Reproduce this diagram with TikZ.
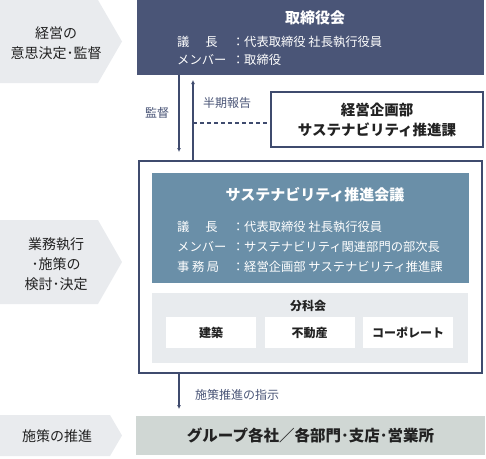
\documentclass[tikz,border=0pt]{standalone}
\usepackage{fontspec}
\setmainfont{Noto Sans CJK JP}
\usepackage{xcolor}
\usepackage{tikz}
\usetikzlibrary{calc,arrows.meta,positioning}
\definecolor{BoardNavy}{HTML}{4A5577}
\definecolor{CouncilBlue}{HTML}{6A8FA8}
\definecolor{LineNavy}{HTML}{3F4B6E}
\definecolor{ChevGray}{HTML}{E9EBEE}
\definecolor{SubGray}{HTML}{E8EBEE}
\definecolor{GroupGray}{HTML}{D0D7D4}
\definecolor{InkGray}{HTML}{222222}
\newcommand{\roleline}[2]{\makebox[55pt][l]{#1}\makebox[12pt][c]{：}#2}

\begin{document}
\begin{tikzpicture}[x=1pt, y=-1pt, >={Latex[length=4pt,width=4pt]},
  font=\fontsize{12}{14}\selectfont,
  panel/.style={anchor=north west, inner sep=0pt, outer sep=0pt},
  chev/.style={fill=ChevGray},
  chevtxt/.style={text=InkGray, align=center, font=\fontsize{14}{20}\selectfont},
  ttl/.style={text=white, font=\bfseries\fontsize{15}{18}\selectfont},
  role/.style={anchor=west, inner sep=0pt, text=white, font=\fontsize{12.3}{14}\selectfont},
  boldtxt/.style={text=InkGray, align=center, font=\bfseries\fontsize{14.5}{20}\selectfont},
  subbox/.style={fill=white, inner sep=0pt, minimum width=90, minimum height=31,
                 text=InkGray, font=\bfseries\fontsize{12}{14}\selectfont},
  lbl/.style={text=BoardNavy, font=\fontsize{12}{14}\selectfont},
  sig/.style={->, draw=LineNavy, line width=1.2pt}]
  \useasboundingbox (0,0) rectangle (486,458);

  % left column
  \fill[chev] (0,0) -- (98,0) -- (122,41.5) -- (98,83) -- (0,83) -- cycle;
  \fill[chev] (0,220) -- (98,220) -- (122,262) -- (98,304) -- (0,304) -- cycle;
  \fill[chev] (0,415) -- (110,415) -- (122,435.5) -- (110,456) -- (0,456) -- cycle;
  \node[chevtxt] (stage1) at (56,43)  {経営の\\意思決定･監督};
  \node[chevtxt] (stage2) at (56,264) {業務執行\\･施策の\\検討･決定};
  \node[chevtxt] (stage3) at (57,436) {施策の推進};

  % board
  \node[panel, fill=BoardNavy, minimum width=347, minimum height=75] (board) at (137,0) {};
  \node[ttl] (boardttl) at (315,18) {取締役会};
  \node[role] (boardchair) at (177,42) {\roleline{議\hspace{16pt}長}{代表取締役 社長執行役員}};
  \node[role] (boardmem) at (177,60) {\roleline{メンバー}{取締役}};

  % planning dept
  \node[panel, draw=LineNavy, line width=1.5pt, fill=white, minimum width=212, minimum height=55] (susdept) at (271,92) {};
  \node[boldtxt] (susdepttxt) at (susdept.center) {経営企画部\\サステナビリティ推進課};

  % council
  \node[panel, draw=LineNavy, line width=1.5pt, fill=white, minimum width=343, minimum height=212] (outer) at (139,161) {};
  \node[panel, fill=CouncilBlue, minimum width=317, minimum height=110] (council) at (152,173) {};
  \node[ttl] (councilttl) at (315,195) {サステナビリティ推進会議};
  \node[role] (cchair) at (177,227) {\roleline{議\hspace{16pt}長}{代表取締役 社長執行役員}};
  \node[role] (cmem) at (177,247) {\roleline{メンバー}{サステナビリティ関連部門の部次長}};
  \node[role] (csec) at (177,267) {\roleline{事\hspace{2.5pt}務\hspace{2.5pt}局}{経営企画部 サステナビリティ推進課}};

  \node[panel, fill=SubGray, minimum width=316, minimum height=70] (subc) at (152,293) {};
  \node[text=InkGray, font=\bfseries\fontsize{12}{14}\selectfont] (subcttl) at (308,306) {分科会};
  \node[subbox, anchor=north west] (kenchiku) at (166,317) {建築};
  \node[subbox, right=8 of kenchiku] (fudosan) {不動産};
  \node[subbox, right=8 of fudosan] (corp) {コーポレート};

  % group
  \node[panel, fill=GroupGray, minimum width=349, minimum height=39] (group) at (136,416) {};
  \node[boldtxt, font=\bfseries\fontsize{15.5}{20}\selectfont] (grouptxt) at (group.center) {グループ各社／各部門･支店･営業所};

  % connectors
  \coordinate (dnx) at (179,0);
  \coordinate (upx) at (193,0);
  \coordinate (dsh) at (193,123);
  \draw[sig, shorten >=9pt] (board.south -| dnx) -- (outer.north -| dnx);
  \draw[sig, shorten >=5pt] (outer.north -| upx) -- (board.south -| upx);
  \draw[LineNavy, line width=1.2pt, dash pattern=on 4pt off 3pt] (dsh) -- (dsh -| susdept.west);
  \draw[sig, shorten >=7pt] (outer.south -| dnx) -- (group.north -| dnx);
  \node[lbl] (lblsup) at (157,113) {監督};
  \node[lbl] (lblrep) at (227,103) {半期報告};
  \node[lbl] (lblord) at (237,395) {施策推進の指示};
\end{tikzpicture}
\end{document}
